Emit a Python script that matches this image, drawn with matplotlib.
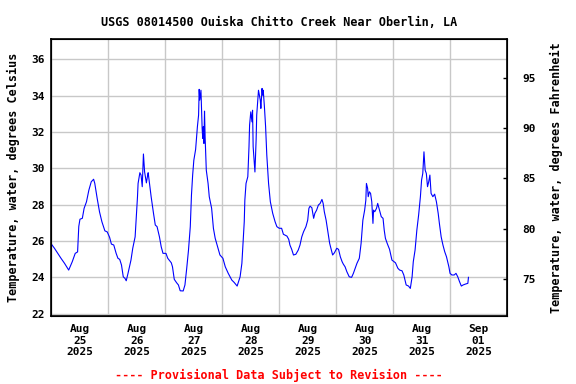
import pandas as pd
import numpy as np
import matplotlib
matplotlib.use("Agg")
import matplotlib.pyplot as plt
import matplotlib.dates as mdates

# hours since 2025-08-25 00:00 and water temperature (deg C)
HOURS = [0, 1.25, 2.5, 4, 5.5, 7.25, 8.75, 10, 11, 11.25, 11.5, 12, 13, 13.75,
         14.75, 15.75, 16.75, 17.75, 18.25, 19.25, 20.25, 21.25, 22.5, 23.5,
         24.5, 25.25, 26.25, 27.25, 28, 28.75, 29.5, 30.25, 31, 31.5, 32.25,
         33.5, 34.25, 35.25, 35.75, 36.25, 36.5, 37.25, 37.75, 38.25, 38.75,
         39.25, 39.5, 40, 40.5, 40.75, 42, 43, 43.75, 44.5, 45.5, 46.25, 47,
         48.25, 49, 50.5, 51, 51.75, 52.75, 53.5, 54.25, 55.5, 56.25, 57,
         57.75, 58.5, 59, 59.5, 60, 60.75, 61.5, 62, 62.25, 62.5, 63, 63.25,
         63.5, 63.75, 64, 64.25, 64.5, 64.75, 65.25, 66, 66.5, 67.5, 68.25, 69,
         70, 71, 72.25, 73.25, 74.5, 76, 77, 78.25, 79.5, 80.25, 80.75, 81.25,
         81.5, 82, 82.75, 83.25, 83.5, 84, 84.5, 84.75, 85, 85.5, 85.75, 86.25,
         86.5, 87.25, 88, 88.25, 88.75, 89, 89.25, 89.75, 90.25, 90.75, 91.5,
         92.25, 93.25, 94.25, 95, 96, 97, 97.75, 99.25, 100, 100.5, 101.25, 102,
         103, 104, 104.75, 105.5, 106.25, 107.25, 108, 108.5, 109, 109.75,
         110.5, 111, 111.75, 112.5, 113.25, 114, 114.5, 115, 115.75, 116.5,
         117.25, 118, 118.5, 119.25, 120.25, 121, 121.75, 122.5, 123, 123.75,
         124.5, 125.5, 126.5, 127.25, 128.75, 129.75, 130.5, 131.25, 132, 132.5,
         132.75, 133.25, 133.5, 134, 134.5, 135, 135.5, 135.75, 136.25, 137,
         137.5, 138.25, 139, 139.75, 140.25, 140.75, 141.5, 142.5, 143.5, 145,
         146, 146.75, 147.75, 148.5, 149.5, 150.5, 151.25, 152, 152.5, 153.25,
         154, 154.75, 155.5, 156, 156.5, 157, 157.5, 158, 158.5, 159, 159.5,
         160, 160.75, 161.5, 162.25, 163, 163.5, 164.25, 165, 165.75, 166.5,
         167.5, 168, 168.75, 169.75, 170.5, 171.25, 172, 172.75, 173.5, 174.5,
         175.5, 175.75]
TEMP_C = [25.82, 25.6, 25.35, 25.05, 24.77, 24.4, 24.86, 25.32, 25.4, 26.05,
          26.8, 27.2, 27.25, 27.8, 28.16, 28.8, 29.26, 29.4, 29.17, 28.35,
          27.6, 27.06, 26.56, 26.5, 26.2, 25.83, 25.78, 25.32, 25.05, 24.99,
          24.68, 24.03, 23.94, 23.81, 24.22, 24.95, 25.6, 26.23, 27.33, 28.44,
          29.17, 29.76, 29.63, 28.99, 30.79, 29.8, 29.6, 29.2, 29.6, 29.76,
          28.44, 27.52, 26.88, 26.79, 26.23, 25.68, 25.32, 25.32, 25.05, 24.8,
          24.58, 23.89, 23.7, 23.58, 23.26, 23.25, 23.58, 24.5, 25.5, 26.79,
          28.53, 29.63, 30.45, 31.04, 32.29, 32.93, 34.35, 33.76, 34.3, 33.3,
          32.2, 31.65, 32.29, 31.37, 33.15, 31.74, 29.9, 29.17, 28.44, 27.8,
          26.7, 26.15, 25.68, 25.23, 25.05, 24.58, 24.22, 23.85, 23.72, 23.52,
          24.03, 24.77, 25.87, 27.06, 28.25, 29.17, 29.54, 31.19, 32.38, 33.11,
          32.56, 33.2, 31.19, 30.27, 29.8, 31.55, 32.93, 34.3, 33.76, 33.3,
          34.4, 34.03, 34.3, 33.39, 32.29, 30.73, 29.17, 28.16, 27.52, 27.06,
          26.79, 26.7, 26.7, 26.37, 26.27, 26.09, 25.78, 25.54, 25.23, 25.27,
          25.5, 25.78, 26.23, 26.51, 26.79, 27.15, 27.8, 27.92, 27.83, 27.25,
          27.52, 27.7, 27.98, 28.07, 28.29, 28.07, 27.61, 27.15, 26.51, 25.87,
          25.5, 25.23, 25.35, 25.6, 25.54, 25.13, 24.86, 24.73, 24.58, 24.31,
          24.03, 24.0, 24.22, 24.77, 25.05, 25.87, 27.15, 27.7, 28.25, 29.17,
          28.9, 28.44, 28.71, 28.62, 28.16, 26.97, 27.7, 27.61, 27.8, 28.07,
          27.7, 27.34, 27.25, 26.6, 26.15, 25.87, 25.54, 24.95, 24.8, 24.5,
          24.4, 24.36, 24.13, 23.58, 23.52, 23.39, 24.03, 24.86, 25.5, 26.6,
          27.43, 28.44, 29.36, 29.72, 30.91, 29.9, 29.72, 28.99, 29.26, 29.63,
          28.62, 28.44, 28.58, 28.16, 27.52, 26.97, 26.23, 25.78, 25.41, 25.13,
          24.58, 24.22, 24.13, 24.13, 24.22, 24.03, 23.76, 23.52, 23.58, 23.63,
          23.67, 24.0]

C_TICKS = [22, 24, 26, 28, 30, 32, 34, 36]
F_TICKS = [75, 80, 85, 90, 95]
Y_LIM = (21.87, 37.12)

TITLE = "USGS 08014500 Ouiska Chitto Creek Near Oberlin, LA"
FOOTER = "---- Provisional Data Subject to Revision ----"

FONT = "DejaVu Sans Mono"
GRID_COLOR = "#c8c8c8"


def c2f(c):
    return c * 9.0 / 5.0 + 32.0


t0 = pd.Timestamp("2025-08-25")
times = t0 + pd.to_timedelta(HOURS, unit="h")

fig = plt.figure(figsize=(5.76, 3.84), dpi=100)
ax = fig.add_axes([0.0894, 0.177, 0.7908, 0.7214])

ax.plot(times, TEMP_C, color="#0000ff", linewidth=0.8, zorder=3)

# x axis: gridlines at midnight, labels at noon
ax.set_xlim(t0, t0 + pd.Timedelta(days=8))
ax.xaxis.set_major_locator(mdates.DayLocator())
ax.xaxis.set_major_formatter(plt.NullFormatter())
ax.xaxis.set_minor_locator(mdates.HourLocator(byhour=[12]))
ax.xaxis.set_minor_formatter(mdates.DateFormatter("%b\n%d\n%Y"))
ax.tick_params(axis="x", which="both", length=0, pad=6)
for lbl in ax.xaxis.get_minorticklabels():
    lbl.set_fontfamily(FONT)
    lbl.set_fontweight("bold")
    lbl.set_fontsize(8)
    lbl.set_linespacing(1.15)

ax.set_ylim(*Y_LIM)
ax.set_yticks(C_TICKS)
ax.tick_params(axis="y", length=0, pad=5)
for lbl in ax.get_yticklabels():
    lbl.set_fontfamily(FONT)
    lbl.set_fontweight("bold")
    lbl.set_fontsize(8)

ax.grid(True, which="major", color=GRID_COLOR, linewidth=1.0)
ax.set_axisbelow(True)
for s in ax.spines.values():
    s.set_linewidth(1.2)

ax.set_ylabel("Temperature, water, degrees Celsius", fontfamily=FONT,
              fontweight="bold", fontsize=8.5, labelpad=8)

ax2 = ax.twinx()
ax2.set_ylim(c2f(Y_LIM[0]), c2f(Y_LIM[1]))
ax2.set_yticks(F_TICKS)
ax2.tick_params(axis="y", direction="in", length=3, width=1, pad=11)
for lbl in ax2.get_yticklabels():
    lbl.set_fontfamily(FONT)
    lbl.set_fontweight("bold")
    lbl.set_fontsize(8)
ax2.set_ylabel("Temperature, water, degrees Fahrenheit", fontfamily=FONT,
               fontweight="bold", fontsize=8.5, labelpad=10)

fig.text(0.5 * (0.0894 + 0.8802), 1 - 22 / 384, TITLE, ha="center", va="center",
         fontfamily=FONT, fontweight="bold", fontsize=8.5)
fig.text(0.5 * (0.0894 + 0.8802), 1 - 375 / 384, FOOTER, ha="center", va="center",
         fontfamily=FONT, fontweight="bold", fontsize=8.5, color="red")

fig.savefig("out.png", dpi=100)
